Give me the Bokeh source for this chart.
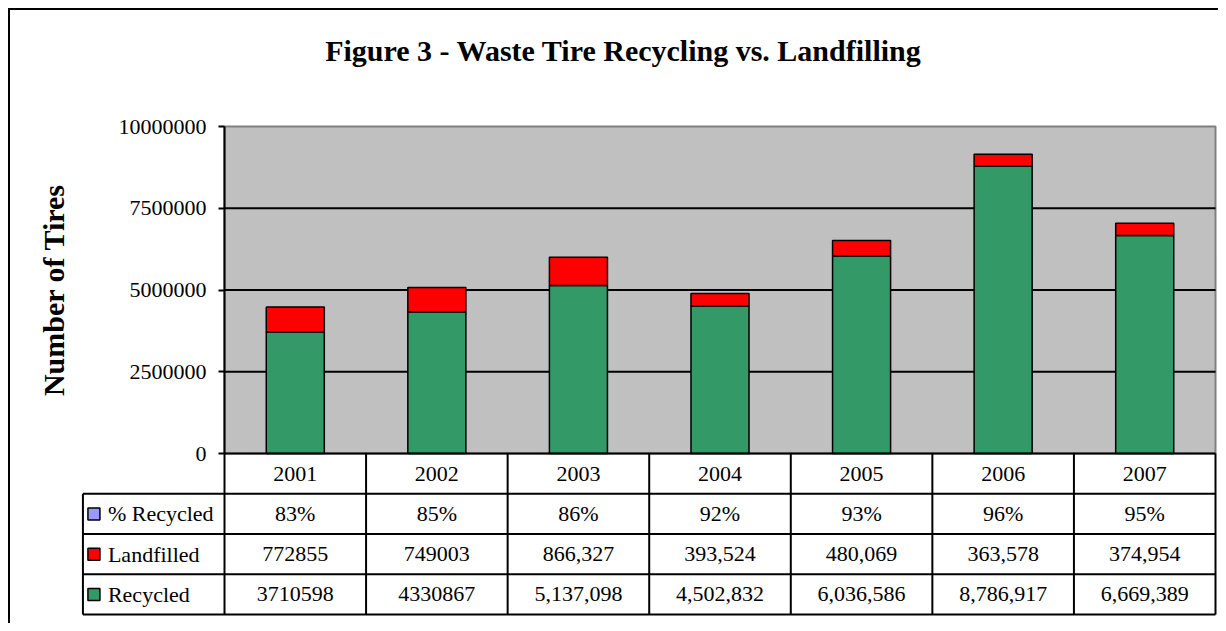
from bokeh.plotting import figure
from bokeh.models import (Range1d, FixedTicker, NumeralTickFormatter, ColumnDataSource,
                          LinearAxis, Label)
from bokeh.core.properties import value
from bokeh.embed import file_html
from bokeh.resources import INLINE

# ---------------- data ----------------
years = ["2001", "2002", "2003", "2004", "2005", "2006", "2007"]
recycled = [3710598, 4330867, 5137098, 4502832, 6036586, 8786917, 6669389]
landfilled = [772855, 749003, 866327, 393524, 480069, 363578, 374954]
use_commas = [False, False, True, True, True, True, True]
row_labels = ["% Recycled", "Landfilled", "Recycled"]
y_ticks = [0, 2500000, 5000000, 7500000, 10000000]
title_text = "Figure 3 - Waste Tire Recycling vs. Landfilling"
y_label = "Number of Tires"

GREEN = "#339966"
RED = "#FF0000"
PURPLE = "#9999FF"
GRAY = "#C0C0C0"
FONT = "Liberation Serif"

# ---------------- layout constants (canvas px) ----------------
W, H = 1218, 623
PLOT_L, PLOT_R, PLOT_T, PLOT_B = 224, 1215, 126, 453
TABLE_B = 614
BORDER_POS = 8.5
TITLE_X, TITLE_Y = 623, 50

n = len(years)
ymax = y_ticks[-1]
px_col = (PLOT_R - PLOT_L) / n
row_h = (TABLE_B - PLOT_B) / 4
k_t = ymax / (PLOT_B - PLOT_T)


def px2x(px):
    return (px - PLOT_L) / px_col


def px2row(py):
    return (py - PLOT_B) / row_h


p = figure(width=W, height=H,
           x_range=Range1d(px2x(0), px2x(W)),
           y_range=Range1d(px2row(H), px2row(0)),
           output_backend="svg", toolbar_location=None,
           x_axis_location=None, y_axis_location=None, min_border=0)
p.extra_y_ranges = {"tires": Range1d((PLOT_B - H) * k_t, PLOT_B * k_t)}
p.outline_line_color = None
p.background_fill_color = "white"
p.border_fill_color = "white"
p.xgrid.visible = False
p.ygrid.visible = False

# outer chart border (left and top edges visible)
p.segment(x0=[px2x(BORDER_POS), px2x(BORDER_POS - 1)], y0=[px2row(BORDER_POS - 1), px2row(BORDER_POS)],
          x1=[px2x(BORDER_POS), px2x(W)], y1=[px2row(H), px2row(BORDER_POS)],
          line_color="black", line_width=2)

# plot area
p.quad(left=[0], right=[n], bottom=[0], top=[ymax], y_range_name="tires",
       fill_color=GRAY, line_color="#808080", line_width=2)
grid_ticks = y_ticks[1:-1]
p.segment(x0=[0] * len(grid_ticks), x1=[n] * len(grid_ticks), y0=grid_ticks, y1=grid_ticks,
          y_range_name="tires", line_color="black", line_width=2)

xs = [i + 0.5 for i in range(n)]
totals = [r + l for r, l in zip(recycled, landfilled)]
src = ColumnDataSource(dict(x=xs, recycled=recycled, total=totals))
p.vbar(x="x", width=0.41, bottom=0, top="recycled", source=src, y_range_name="tires",
       fill_color=GREEN, line_color="black", line_width=1.5)
p.vbar(x="x", width=0.41, bottom="recycled", top="total", source=src, y_range_name="tires",
       fill_color=RED, line_color="black", line_width=1.5)

# y axis at x = 0
ya = LinearAxis(y_range_name="tires", fixed_location=0, bounds=(0, ymax),
                ticker=FixedTicker(ticks=y_ticks), formatter=NumeralTickFormatter(format="0"))
ya.axis_label = y_label
ya.axis_label_text_font = FONT
ya.axis_label_text_font_size = "30px"
ya.axis_label_text_font_style = "bold"
ya.axis_label_text_color = "#000000"
ya.axis_label_standoff = 46
ya.major_label_text_font = FONT
ya.major_label_text_font_size = "22px"
ya.major_label_text_color = "#000000"
ya.major_label_standoff = 12
ya.major_tick_out = 6
ya.major_tick_in = 0
ya.minor_tick_out = 0
ya.minor_tick_in = 0
ya.axis_line_width = 2
ya.axis_line_color = "black"
ya.major_tick_line_width = 2
ya.major_tick_line_color = "black"
p.add_layout(ya, "left")

# ---------------- data table ----------------
def fmt(v, comma):
    return f"{v:,}" if comma else f"{v}"

pct = [f"{round(r / (r + l) * 100)}%" for r, l in zip(recycled, landfilled)]
land_txt = [fmt(v, c) for v, c in zip(landfilled, use_commas)]
rec_txt = [fmt(v, c) for v, c in zip(recycled, use_commas)]

hx0 = [0] + [-1] * 4
hx1 = [n] * 5
hy = [0, 1, 2, 3, 4]
p.segment(x0=hx0, y0=hy, x1=hx1, y1=hy, line_color="black", line_width=2)
vx = [-1] + list(range(0, n + 1))
vy0 = [1] + [0] * (n + 1)
vy1 = [4] * (n + 2)
p.segment(x0=vx, y0=vy0, x1=vx, y1=vy1, line_color="black", line_width=2)

rows = [years, pct, land_txt, rec_txt]
tx, ty, tt = [], [], []
for r, vals in enumerate(rows):
    for i, t in enumerate(vals):
        tx.append(i + 0.5)
        ty.append(r + 0.5)
        tt.append(t)
p.text(x=tx, y=ty, text=tt, text_font=value(FONT), text_font_size=value("22px"),
       text_color="black", text_align="center", text_baseline="middle")

ly = [r + 1.5 for r in range(len(row_labels))]
p.text(x=[-1] * len(row_labels), y=ly, text=row_labels, x_offset=25,
       text_font=value(FONT), text_font_size=value("22px"),
       text_color="black", text_align="left", text_baseline="middle")
p.scatter(x=[-1 + 11 / px_col] * 3, y=ly, marker="square", size=12,
          fill_color=[PURPLE, RED, GREEN], line_color="black", line_width=1.5)

# title
p.add_layout(Label(x=TITLE_X, y=TITLE_Y, x_units="canvas", y_units="canvas",
                   text=title_text, text_font=FONT, text_font_size="30px",
                   text_font_style="bold", text_color="#000000",
                   text_align="center", text_baseline="alphabetic"))

open("out.html", "w").write(file_html(p, INLINE))
